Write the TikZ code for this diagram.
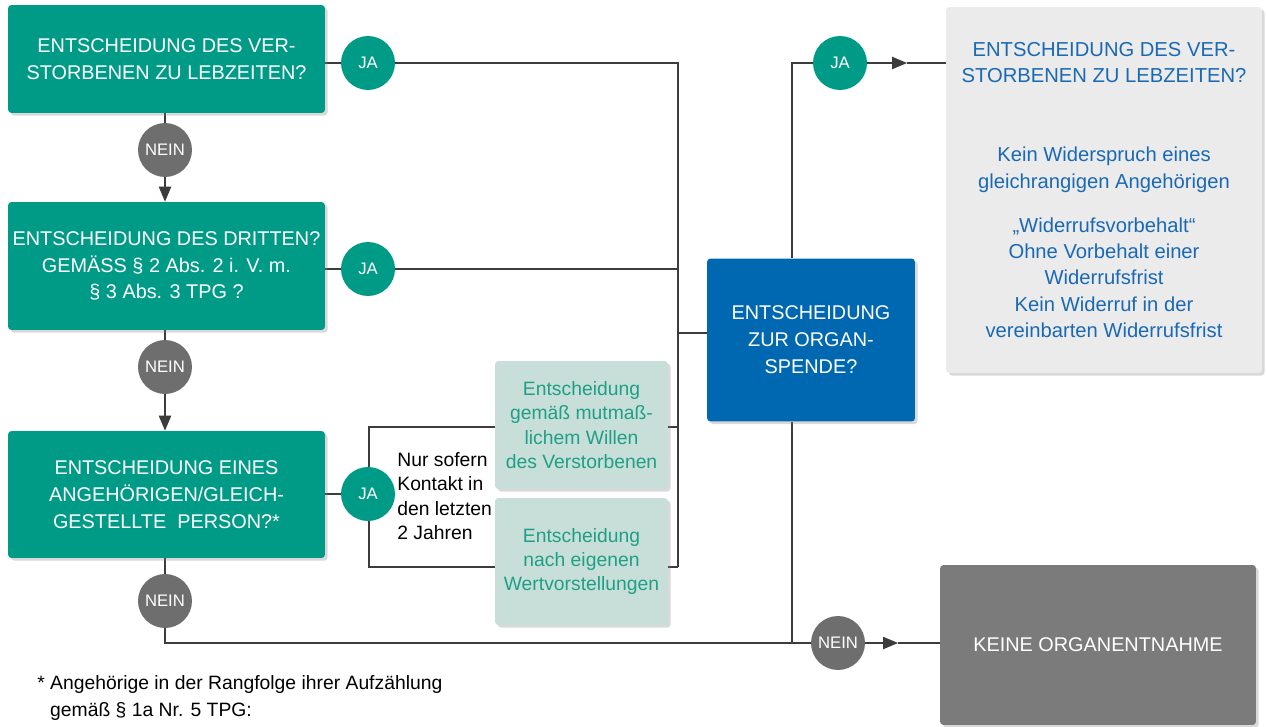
\documentclass[tikz,border=0pt]{standalone}
\usepackage{fontspec}
\setmainfont{Liberation Sans}
\usetikzlibrary{arrows.meta,shadows,backgrounds}

\definecolor{tpggruen}{RGB}{0,155,135}
\definecolor{tpgmint}{RGB}{200,222,216}
\definecolor{tpgmintschrift}{RGB}{30,160,135}
\definecolor{tpgblau}{RGB}{0,103,177}
\definecolor{tpgblauschrift}{RGB}{25,105,180}
\definecolor{tpghell}{RGB}{235,235,235}
\definecolor{tpggrau}{RGB}{123,123,123}
\definecolor{tpgnein}{RGB}{110,110,110}
\definecolor{tpglinie}{RGB}{60,60,60}

\tikzset{
  kasten/.style={rectangle, rounded corners=2pt, inner sep=1pt, align=center,
    drop shadow={shadow xshift=1.5pt, shadow yshift=-1.5pt, opacity=.3}},
  frage/.style={kasten, fill=tpggruen, text=white, minimum width=6.34cm,
    font=\fontsize{11.3}{15.3}\selectfont},
  hinweis/.style={kasten, fill=tpgmint, text=tpgmintschrift, minimum width=3.46cm,
    font=\fontsize{11}{13.9}\selectfont},
  ja/.style={circle, fill=tpggruen, text=white, minimum size=1.08cm, inner sep=0pt,
    font=\fontsize{9.5}{11}\selectfont},
  nein/.style={ja, fill=tpgnein},
  linie/.style={draw=tpglinie, line width=0.6pt},
  pfeil/.style={linie, -{Triangle[length=8.5pt, width=7pt]}},
}

\begin{document}
\begin{tikzpicture}[x=0.02cm, y=-0.02cm]
  \useasboundingbox (0,0) rectangle (1266,726);

  % Schritt 1: die drei Fragen links mit ihren JA/NEIN-Kreisen
  \node[frage, minimum height=2.16cm] (frageA) at (166.5,59)
    {ENTSCHEIDUNG DES VER-\\STORBENEN ZU LEBZEITEN?};
  \node[frage, minimum height=2.56cm] (frageB) at (166.5,266)
    {ENTSCHEIDUNG DES DRITTEN?\\GEMÄSS § 2 Abs. 2 i. V. m.\\§ 3 Abs. 3 TPG ?};
  \node[frage, minimum height=2.54cm] (frageC) at (166.5,494.5)
    {ENTSCHEIDUNG EINES\\ANGEHÖRIGEN/GLEICH-\\GESTELLTE\ \ PERSON?*};

  \node[nein] (nein1) at (165,150) {NEIN};
  \node[nein] (nein2) at (165,367) {NEIN};
  \node[nein] (nein3) at (165,601) {NEIN};
  \node[ja] (ja1) at (368,63) {JA};
  \node[ja] (ja2) at (368,269) {JA};
  \node[ja] (ja3) at (368,494) {JA};

  % Schritt 2: Angehörigenentscheidung
  \node[hinweis, minimum height=2.56cm] (mutmass) at (581.5,425)
    {Entscheidung\\gemäß mutmaß-\\lichem Willen\\des Verstorbenen};
  \node[hinweis, minimum height=2.54cm] (eigen) at (581.5,561.5)
    {Entscheidung\\nach eigenen\\Wertvorstellungen};
  \node[anchor=west, align=left, inner sep=0pt, font=\fontsize{11}{13.9}\selectfont]
    (kontakt) at (397,496) {Nur sofern\\Kontakt in\\den letzten\\2 Jahren};

  % Schritt 3: Organspende-Frage und Ergebnisse rechts
  \node[kasten, fill=tpgblau, text=white, minimum width=4.16cm, minimum height=3.26cm,
    font=\fontsize{11.3}{15.3}\selectfont] (spende) at (811,340)
    {ENTSCHEIDUNG\\ZUR ORGAN-\\SPENDE?};
  \node[kasten, fill=tpghell, text=tpgblauschrift, minimum width=6.32cm, minimum height=7.32cm,
    font=\fontsize{11.5}{15}\selectfont] (wille) at (1104,190)
    {ENTSCHEIDUNG DES VER-\\STORBENEN ZU LEBZEITEN?\\[30pt]
     Kein Widerspruch eines\\gleichrangigen Angehörigen\\[10pt]
     „Widerrufsvorbehalt“\\Ohne Vorbehalt einer\\Widerrufsfrist\\
     Kein Widerruf in der\\vereinbarten Widerrufsfrist};
  \node[kasten, fill=tpggrau, text=white, minimum width=6.32cm, minimum height=3.2cm,
    font=\fontsize{11.3}{15.3}\selectfont] (keine) at (1098,645) {KEINE ORGANENTNAHME};
  \node[ja] (ja4) at (840,63) {JA};
  \node[nein] (nein4) at (838,643) {NEIN};

  % Schritt 4: Fußnote (unten angeschnitten)
  \node[anchor=north west, align=left, inner sep=0pt, font=\fontsize{11}{15.5}\selectfont]
    (fussnote) at (37,675)
    {*\ Angehörige in der Rangfolge ihrer Aufzählung\\
     \phantom{*\ }gemäß § 1a Nr. 5 TPG:\\
     \phantom{*\ }a) Ehegatte/eingetragener Lebenspartner};

  % Schritt 5: Verbindungslinien hinter den Kästen
  \coordinate (knoten) at (678,333);
  \coordinate (klammerO) at (369,427);
  \coordinate (klammerU) at (369,567);
  \coordinate (abzweig) at (792,643);
  \coordinate (spitzeJ) at (907,63);
  \coordinate (spitzeN) at (898,643);

  \begin{pgfonlayer}{background}
    \draw[linie] (frageA.south -| nein1) -- (nein1);
    \draw[pfeil] (nein1) -- (frageB.north -| nein1);
    \draw[linie] (frageB.south -| nein2) -- (nein2);
    \draw[pfeil] (nein2) -- (frageC.north -| nein2);
    \draw[linie] (frageC.south -| nein3) -- (nein3) -- (nein3 |- nein4) -- (nein4);

    \draw[linie] (frageA.east |- ja1) -- (ja1) -- (ja1 -| knoten) -- (knoten |- klammerU);
    \draw[linie] (frageB.east |- ja2) -- (ja2) -- (ja2 -| knoten);
    \draw[linie] (frageC.east |- ja3) -- (ja3);
    \draw[linie] (klammerO -| knoten) -- (klammerO) -- (klammerU) -- (klammerU -| knoten);
    \draw[linie] (knoten) -- (spende.west |- knoten);

    \draw[linie] (spende.north -| abzweig) -- (abzweig |- ja4) -- (ja4);
    \draw[linie] (spende.south -| abzweig) -- (abzweig);
    \draw[pfeil] (ja4) -- (spitzeJ);
    \draw[linie] (spitzeJ) -- (wille.west |- ja4);
    \draw[pfeil] (nein4) -- (spitzeN);
    \draw[linie] (spitzeN) -- (keine.west |- nein4);
  \end{pgfonlayer}
\end{tikzpicture}
\end{document}
